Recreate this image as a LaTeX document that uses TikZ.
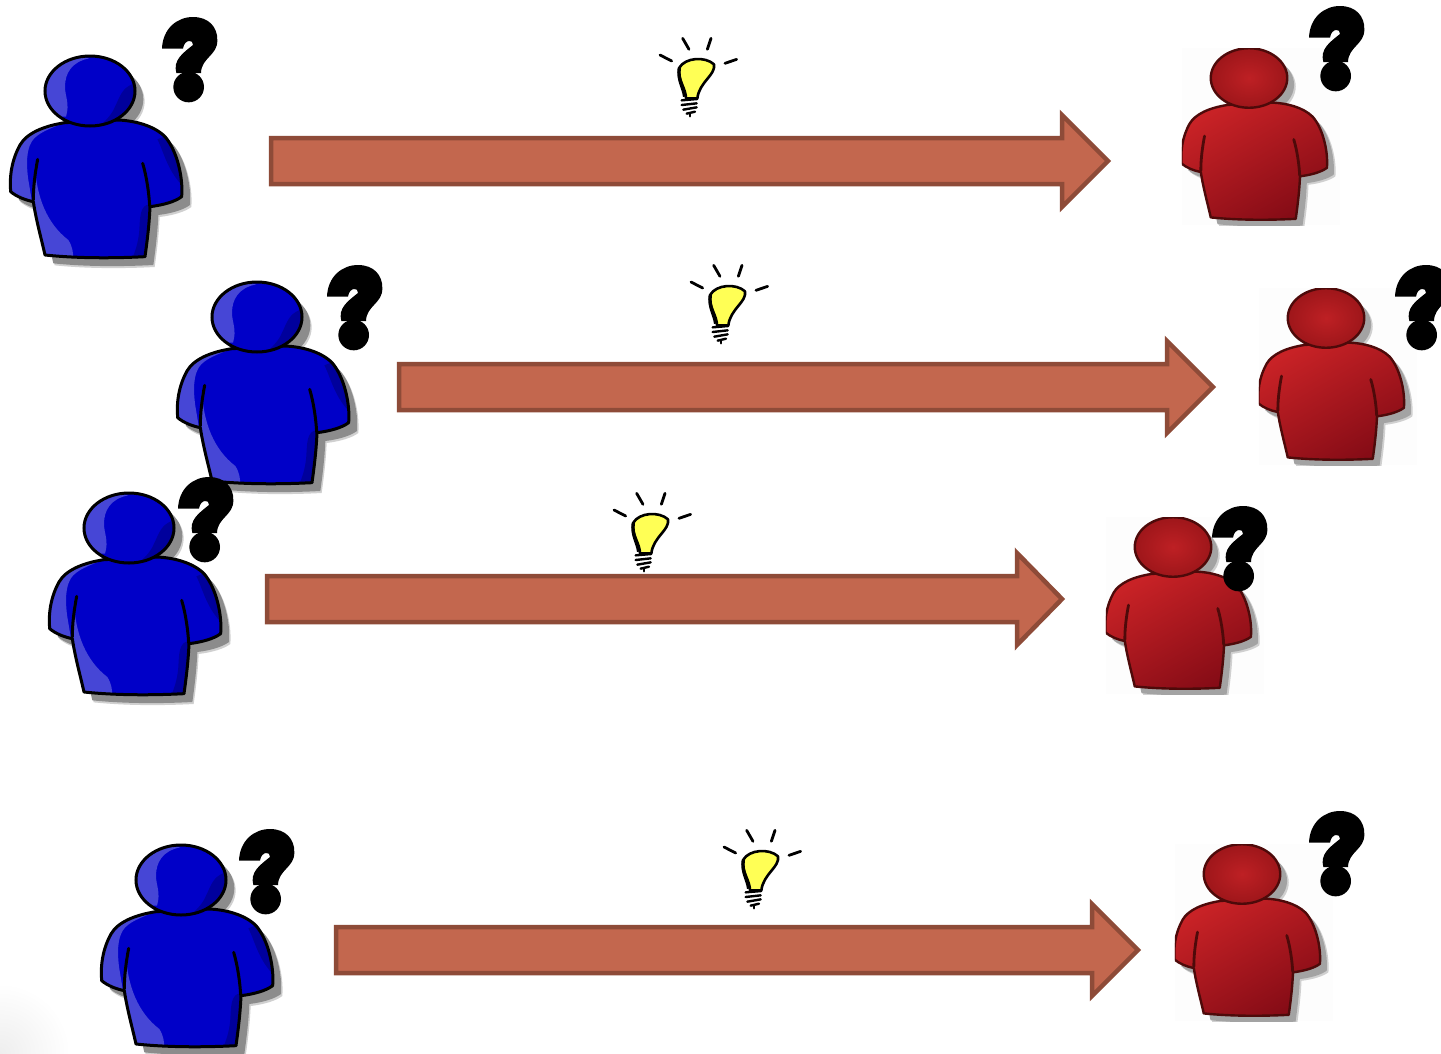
\documentclass[tikz,border=0pt]{standalone}
\definecolor{bluefill}{HTML}{0000C8}
\definecolor{bluelight}{HTML}{4646D6}
\definecolor{bluedark}{HTML}{00009C}
\definecolor{shadowgray}{HTML}{8C8C8C}
\definecolor{shadowsoft}{HTML}{D0D0D0}
\definecolor{redtop}{HTML}{C82226}
\definecolor{redbot}{HTML}{860C16}
\definecolor{redhead}{HTML}{BE2024}
\definecolor{redheadrim}{HTML}{9E161A}
\definecolor{redline}{HTML}{4E0A0A}
\definecolor{arrowfill}{HTML}{C3674E}
\definecolor{arrowline}{HTML}{8E4B38}
\definecolor{bulbfill}{HTML}{FFFF55}
\definecolor{paperbox}{HTML}{FDFDFD}
\definecolor{cornerfade}{HTML}{EEEEEE}
\tikzset{
  blockarrow/.style={draw=arrowline,fill=arrowfill,line width=4.5pt,miter limit=10},
  qmarkshape/.style={fill=black},
  bulbline/.style={draw=black,line width=2.8pt,line cap=round},
}
\newcommand{\bodypath}{(195,368) .. controls (130,378) and (80,400) .. (60,435)
  .. controls (35,480) and (28,530) .. (32,575)
  .. controls (50,590) and (75,600) .. (100,605)
  .. controls (108,660) and (125,720) .. (135,765)
  .. controls (230,775) and (340,775) .. (435,770)
  .. controls (442,720) and (448,670) .. (450,620)
  .. controls (490,615) and (525,605) .. (545,590)
  .. controls (550,530) and (530,450) .. (495,410)
  .. controls (460,375) and (400,362) .. (355,360) -- cycle}
\newcommand{\headpath}{(270,273) ellipse [x radius=135,y radius=105]}
\newcommand{\seams}[2]{%
  \draw[#1,line width=#2,line cap=round] (113,478) .. controls (105,520) and (100,560) .. (100,600);
  \draw[#1,line width=#2,line cap=round] (428,490) .. controls (440,530) and (447,580) .. (449,618);}
% blue person: #1,#2 = head centre in px
\newcommand{\blueperson}[2]{%
\begin{scope}[shift={(#1,#2)},scale=1/3,shift={(-270,-273)}]
  \fill[shadowsoft,shift={(29,31)}] \bodypath;
  \fill[shadowsoft,shift={(29,31)}] \headpath;
  \fill[shadowgray,shift={(25,25)}] \bodypath;
  \fill[shadowgray,shift={(25,25)}] \headpath;
  \fill[bluefill] \bodypath;
  \begin{scope}
    \clip \bodypath;
    \fill[bluelight] (195,368) .. controls (150,385) and (110,400) .. (95,425) .. controls (80,450) and (78,490) .. (85,540) -- (96,605) -- (20,590) -- (10,420) -- (100,350) -- cycle;
    \fill[bluelight] (105,500) .. controls (110,590) and (140,670) .. (205,720) .. controls (218,740) and (220,760) .. (220,780) -- (125,780) -- (98,600) -- cycle;
    \fill[bluedark] (472,418) .. controls (490,450) and (500,510) .. (550,560) -- (560,480) -- (505,405) -- cycle;
    \fill[bluedark] (450,612) .. controls (420,615) and (420,650) .. (418,690) .. controls (415,730) and (405,755) .. (395,780) -- (445,780) -- cycle;
  \end{scope}
  \draw[black,line width=3pt,line join=round] \bodypath;
  \seams{black}{3pt}
  \fill[bluefill] \headpath;
  \begin{scope}
    \clip \headpath;
    \fill[bluelight] (268,175) .. controls (215,185) and (195,220) .. (195,260) .. controls (195,290) and (210,310) .. (198,350) -- (120,350) -- (120,160) -- cycle;
    \fill[bluedark] (398,252) .. controls (365,265) and (360,290) .. (345,320) .. controls (335,345) and (315,365) .. (290,385) -- (420,385) -- (420,250) -- cycle;
  \end{scope}
  \draw[black,line width=3pt] \headpath;
\end{scope}}
% red person: #1,#2 = head centre in px; the picture is cropped to its own box
\newcommand{\redperson}[2]{%
\begin{scope}[shift={(#1,#2)},scale=0.85/3,shift={(-270,-273)}]
  \fill[paperbox] (33,168) rectangle (590,792);
  \begin{scope}
    \clip (33,168) rectangle (590,792);
    \fill[shadowsoft,shift={(30,30)}] \bodypath;
    \fill[shadowsoft,shift={(30,30)}] \headpath;
    \fill[shadowgray!80!white,shift={(24,24)}] \bodypath;
    \fill[shadowgray!80!white,shift={(24,24)}] \headpath;
    \shade[shading=axis,top color=redtop,bottom color=redbot,shading angle=30] \bodypath;
    \seams{redline}{2.8pt}
    \draw[redline,line width=2.4pt,line join=round] \bodypath;
    \shade[inner color=redhead,outer color=redheadrim] \headpath;
    \draw[redline,line width=2.4pt] \headpath;
  \end{scope}
\end{scope}}
% question mark: #1,#2 = top-left corner in px
\newcommand{\qmark}[2]{%
\begin{scope}[shift={(#1,#2)},scale=1/3,shift={(-485,-50)}]
  \fill[qmarkshape] (485,145) .. controls (487,85) and (530,50) .. (578,50)
    .. controls (625,50) and (652,80) .. (651,120)
    .. controls (652,165) and (603,172) .. (602,218) -- (528,218)
    .. controls (518,180) and (545,160) .. (578,134)
    .. controls (580,116) and (552,116) .. (548,145) -- cycle;
  \fill[qmarkshape] (565,260) circle [radius=46];
\end{scope}}
% light bulb: #1,#2 = offset from the first bulb in px
\newcommand{\bulb}[2]{%
\begin{scope}[shift={(640+#1,25+#2)},scale=1/3]
  \draw[bulbline] (60,90) -- (95,108);
  \draw[bulbline] (128,40) -- (147,73);
  \draw[bulbline] (213,40) -- (202,73);
  \draw[bulbline] (255,115) -- (290,103);
  \draw[fill=bulbfill,draw=black,line width=2.6pt,line join=round]
    (118,128) .. controls (135,98) and (195,93) .. (222,118)
    .. controls (228,150) and (178,170) .. (172,220)
    -- (138,220) .. controls (138,190) and (112,165) .. (118,128) -- cycle;
  \draw[black,line width=3.4pt] (118,128) .. controls (112,165) and (130,185) .. (134,215);
  \draw[bulbline,line width=2.4pt] (125,226) -- (172,222);
  \draw[bulbline,line width=2.4pt] (125,240) -- (170,235);
  \draw[bulbline,line width=2.4pt] (130,254) -- (170,247);
  \draw[bulbline,line width=2.4pt] (140,266) -- (165,260);
  \draw[bulbline,line width=2.4pt] (150,268) -- (150,274);
\end{scope}}
% block arrow: left, centre y, head start, tip
\newcommand{\blockarr}[4]{%
  \draw[blockarrow] (#1,#2-23) -- (#3,#2-23) -- (#3,#2-46) -- (#4-2,#2) -- (#3,#2+46) -- (#3,#2+23) -- (#1,#2+23) -- cycle;}
\begin{document}
\begin{tikzpicture}[x=1pt,y=-1pt]
  \useasboundingbox (0,0) rectangle (1441,1053);
  \fill[white] (0,0) rectangle (1441,1053);
  \begin{scope}
    \clip (0,930) rectangle (130,1053);
    \shade[inner color=cornerfade,outer color=white] (0,1053) circle [radius=70];
  \end{scope}
  \blockarr{271}{161}{1062}{1110}
  \blockarr{399}{387}{1167}{1215}
  \blockarr{267}{599}{1017}{1064}
  \blockarr{336}{950}{1092}{1140}
  \blueperson{90}{91}
  \blueperson{257}{317}
  \blueperson{129}{528}
  \blueperson{181}{880}
  \redperson{1249}{78}
  \redperson{1326}{318}
  \redperson{1173}{547}
  \redperson{1242}{874}
  \qmark{162}{17}
  \qmark{327}{265}
  \qmark{178}{477}
  \qmark{239}{829}
  \qmark{1309}{6}
  \qmark{1395}{265}
  \qmark{1212}{506}
  \qmark{1309}{811}
  \bulb{0}{0}
  \bulb{31}{227}
  \bulb{-46}{455}
  \bulb{64}{792}
\end{tikzpicture}
\end{document}
